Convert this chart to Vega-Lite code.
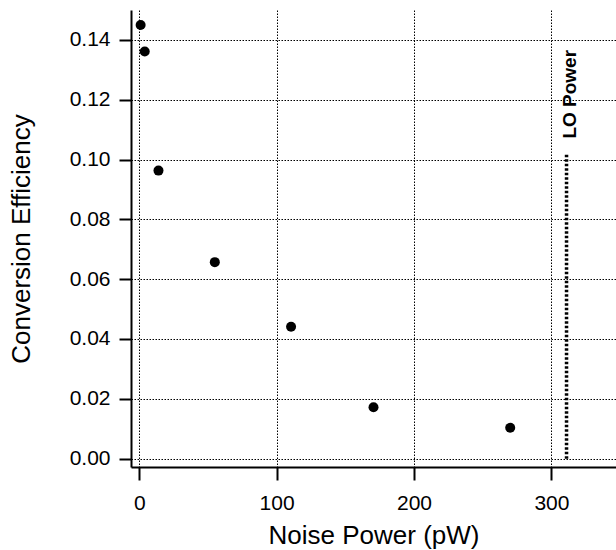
{
  "$schema": "https://vega.github.io/schema/vega-lite/v6.json",
  "width": 485,
  "height": 457,
  "autosize": {"type": "none"},
  "padding": {"left": 131, "top": 10, "right": 0, "bottom": 83},
  "config": {
    "view": {"stroke": null},
    "font": "Liberation Sans",
    "axis": {
      "grid": true,
      "gridColor": "black",
      "gridDash": [1.5, 1.5],
      "gridWidth": 1,
      "gridOpacity": 1,
      "domainColor": "black",
      "domainWidth": 2,
      "tickColor": "black",
      "tickWidth": 2,
      "tickSize": 12,
      "labelFontSize": 21,
      "labelColor": "black",
      "titleFontSize": 26,
      "titleFontWeight": "normal",
      "titleColor": "black"
    }
  },
  "datasets": {
    "pts": [
      {"noise": 1, "eff": 0.145},
      {"noise": 4, "eff": 0.1361},
      {"noise": 14, "eff": 0.0963},
      {"noise": 55, "eff": 0.0657},
      {"noise": 110.5, "eff": 0.0441},
      {"noise": 170.5, "eff": 0.0172},
      {"noise": 270, "eff": 0.0103}
    ],
    "lo": [
      {"noise": 311, "y0": 0, "y1": 0.102, "label": "LO Power", "ty": 0.107}
    ]
  },
  "layer": [
    {
      "data": {"name": "pts"},
      "mark": {"type": "point", "filled": true, "color": "black", "opacity": 1, "size": 100},
      "encoding": {
        "x": {
          "field": "noise", "type": "quantitative",
          "scale": {"domain": [-6, 347], "nice": false, "zero": false},
          "axis": {"values": [0, 100, 200, 300], "title": "Noise Power (pW)", "labelPadding": 12, "titlePadding": 9, "tickSize": 13}
        },
        "y": {
          "field": "eff", "type": "quantitative",
          "scale": {"domain": [-0.0028, 0.15], "nice": false, "zero": false},
          "axis": {"values": [0, 0.02, 0.04, 0.06, 0.08, 0.1, 0.12, 0.14], "format": ".2f", "title": "Conversion Efficiency", "labelPadding": 9, "titlePadding": 35}
        }
      }
    },
    {
      "data": {"name": "lo"},
      "mark": {"type": "rule", "color": "black", "strokeWidth": 3.5, "strokeDash": [2.5, 2]},
      "encoding": {
        "x": {"field": "noise", "type": "quantitative"},
        "y": {"field": "y0", "type": "quantitative"},
        "y2": {"field": "y1"}
      }
    },
    {
      "data": {"name": "lo"},
      "mark": {"type": "text", "angle": 270, "align": "left", "baseline": "middle", "dy": 3, "fontSize": 19, "fontWeight": "bold", "color": "black"},
      "encoding": {
        "x": {"field": "noise", "type": "quantitative"},
        "y": {"field": "ty", "type": "quantitative"},
        "text": {"field": "label"}
      }
    }
  ]
}
